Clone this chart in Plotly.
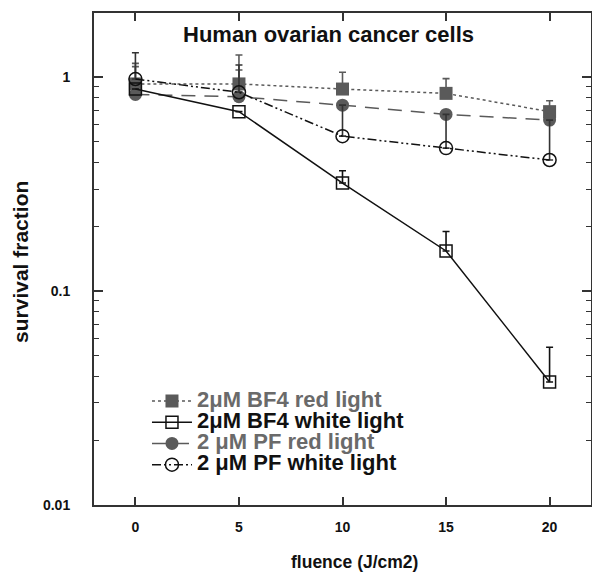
import plotly.graph_objects as go

fluence = [0, 5, 10, 15, 20]

bf4_red = [0.93, 0.93, 0.88, 0.84, 0.69]
bf4_red_err_up = [0.23, 0.34, 0.175, 0.145, 0.086]

bf4_white = [0.88, 0.69, 0.32, 0.154, 0.0376]
bf4_white_err_up = [0.0, 0.0, 0.045, 0.036, 0.017]

pf_red = [0.83, 0.81, 0.74, 0.67, 0.63]
pf_red_err_up = [0.29, 0.27, 0.0, 0.0, 0.0]

pf_white = [0.98, 0.85, 0.53, 0.466, 0.41]
pf_white_err_up = [0.32, 0.29, 0.21, 0.204, 0.22]

names = ["2μM BF4 red light", "2μM BF4 white light", "2 μM PF red light", "2 μM PF white light"]

y_tickvals = [0.01, 0.1, 1]
y_ticktext = ["0.01", "0.1", "1"]
x_tickvals = [0, 5, 10, 15, 20]

GRAY = "#5a5a5a"
GRAY_TXT = "#6a6a6a"
BLACK = "#111111"
FONT = "Liberation Sans, Arial, sans-serif"
LEG_PX = 22

fig = go.Figure()

def err(vals, color):
    return dict(type="data", symmetric=False, array=vals, arrayminus=[0] * len(vals),
                thickness=1.6, width=3.5, color=color)

def legname(text, color):
    return f"<span style='color:{color};font-size:{LEG_PX}px'>{text}</span>"

# BF4 red light
fig.add_trace(go.Scatter(
    x=fluence, y=bf4_red, mode="lines+markers",
    name=legname(names[0], GRAY_TXT),
    line=dict(color=GRAY, width=1.5, dash="dot"),
    marker=dict(symbol="square", size=13, color=GRAY),
    error_y=err(bf4_red_err_up, GRAY), legendrank=1))

# PF red light
fig.add_trace(go.Scatter(
    x=fluence, y=pf_red, mode="lines+markers",
    name=legname(names[2], GRAY_TXT),
    line=dict(color=GRAY, width=1.5, dash="14px,9px"),
    marker=dict(symbol="circle", size=13, color=GRAY),
    error_y=err(pf_red_err_up, GRAY), legendrank=3))

# BF4 white light
fig.add_trace(go.Scatter(
    x=fluence, y=bf4_white, mode="lines+markers",
    name=legname(names[1], BLACK),
    line=dict(color=BLACK, width=1.5),
    marker=dict(symbol="square-open", size=12, color=BLACK, line=dict(width=1.5)),
    error_y=err(bf4_white_err_up, BLACK), legendrank=2))

# PF white light
fig.add_trace(go.Scatter(
    x=fluence, y=pf_white, mode="lines+markers",
    name=legname(names[3], BLACK),
    line=dict(color=BLACK, width=1.5, dash="9px,3px,2px,3px,2px,3px"),
    marker=dict(symbol="circle-open", size=13, color=BLACK, line=dict(width=1.5)),
    error_y=err(pf_white_err_up, "#333333"), legendrank=4))

minor_vals = [m * 10 ** d for d in (-2, -1) for m in range(2, 10)]

fig.update_layout(
    width=592, height=569, autosize=False,
    margin=dict(l=86, r=9, t=3, b=72),
    paper_bgcolor="white", plot_bgcolor="white",
    font=dict(family=FONT, color=BLACK),
    showlegend=True,
    legend=dict(x=0.1066, y=0.243, xanchor="left", yanchor="top",
                bgcolor="rgba(0,0,0,0)", font=dict(size=14, weight="bold", family=FONT),
                tracegroupgap=0, itemwidth=40),
    xaxis=dict(range=[-2, 22], tickvals=x_tickvals, ticks="inside", ticklen=8,
               tickwidth=1.5, tickcolor="#333", showline=True, linecolor="#333",
               linewidth=2, mirror="ticks", showgrid=False, zeroline=False,
               tickfont=dict(size=14, weight="bold", family=FONT, color=BLACK),
               ticklabelstandoff=8),
    yaxis=dict(type="log", range=[-2, 0.3], tickvals=y_tickvals, ticktext=y_ticktext,
               ticks="inside", ticklen=9, tickwidth=1.5, tickcolor="#333",
               showline=True, linecolor="#333", linewidth=2, mirror="ticks",
               showgrid=False, zeroline=False,
               tickfont=dict(size=14, weight="bold", family=FONT, color=BLACK),
               ticklabelstandoff=19,
               minor=dict(tickvals=minor_vals, ticks="inside", ticklen=5,
                          tickwidth=1.2, tickcolor="#333", showgrid=False)),
    annotations=[
        dict(text="Human ovarian cancer cells", x=0.471, y=0.9555, xref="paper", yref="paper",
             xanchor="center", yanchor="middle", showarrow=False,
             font=dict(size=22, weight="bold", family=FONT, color=BLACK)),
        dict(text="survival fraction", x=-0.1469, y=0.494, xref="paper", yref="paper",
             xanchor="center", yanchor="middle", textangle=-90, showarrow=False,
             borderpad=0,
             font=dict(size=21, weight="bold", family=FONT, color=BLACK)),
        dict(text="fluence (J/cm2)", x=0.524, y=-0.115, xref="paper", yref="paper",
             xanchor="center", yanchor="middle", showarrow=False,
             font=dict(size=17.5, weight="bold", family=FONT, color=BLACK)),
    ],
)

fig.write_html("out.html")
